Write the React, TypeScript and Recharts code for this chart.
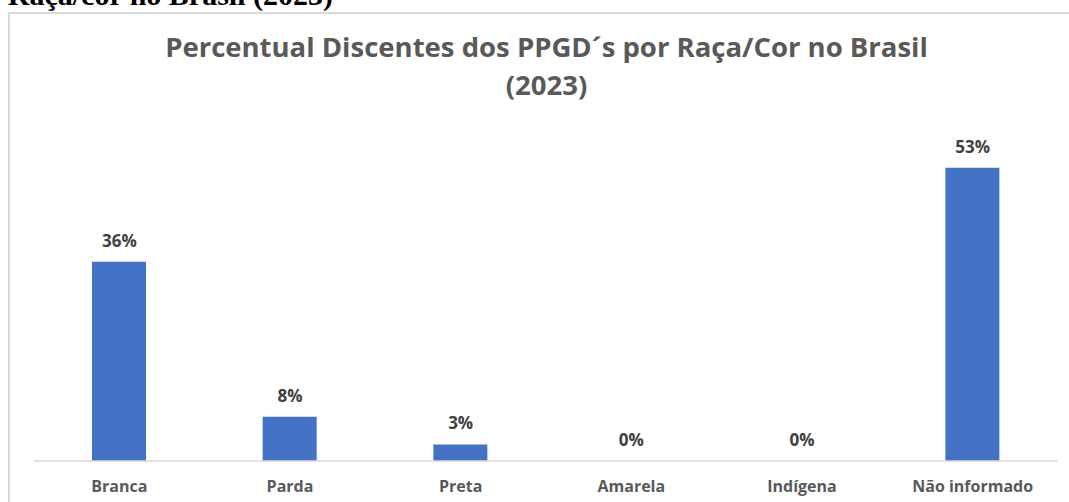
import React from 'react';
import { ComposedChart, Bar, Line, XAxis, YAxis, LabelList } from 'recharts';

const categories = ['Branca', 'Parda', 'Preta', 'Amarela', 'Indígena', 'Não informado'];
const percentValues = [36, 8, 3, 0, 0, 53];

const data = categories.map((name, i) => ({ name, value: percentValues[i] }));

const FONT = '"Open Sans", "Noto Sans", sans-serif';

export default function App() {
  return (
    <div style={{ position: 'fixed', left: 0, top: 0, width: 1069, height: 502, overflow: 'hidden', background: '#fff' }}>
      {/* heading from the page above the chart, mostly cut off */}
      <div
        style={{
          position: 'absolute',
          right: 736,
          top: -20,
          fontFamily: '"Liberation Serif", "Times New Roman", serif',
          fontWeight: 700,
          fontSize: 30,
          lineHeight: 1,
          whiteSpace: 'nowrap',
          color: '#000',
        }}
      >
        Raça/cor no Brasil (2023)
      </div>
      <div
        style={{
          position: 'absolute',
          left: 8,
          top: 12,
          width: 1100,
          height: 520,
          borderTop: '2px solid #d9d9d9',
          borderLeft: '2px solid #d9d9d9',
          boxSizing: 'border-box',
        }}
      />
      <div
        style={{
          position: 'absolute',
          left: 0,
          top: 28,
          width: 1069,
          textAlign: 'center',
          fontFamily: FONT,
          fontWeight: 700,
          fontSize: 27.5,
          lineHeight: '38px',
          color: '#595959',
        }}
      >
        <div style={{ paddingLeft: 24 }}>Percentual Discentes dos PPGD´s por Raça/Cor no Brasil</div>
        <div style={{ paddingLeft: 24 }}>(2023)</div>
      </div>
      <div style={{ position: 'absolute', left: 0, top: 0 }}>
        <ComposedChart
          width={1069}
          height={502}
          data={data}
          margin={{ top: 129, right: 11, left: 34, bottom: 11 }}
        >
          <XAxis
            dataKey="name"
            height={30}
            tickLine={false}
            axisLine={{ stroke: '#d9d9d9', strokeWidth: 1.5 }}
            tickMargin={14}
            interval={0}
            tick={{ fill: '#595959', fontSize: 16, fontWeight: 700, fontFamily: FONT }}
          />
          <YAxis hide domain={[0, 60]} />
          <Bar dataKey="value" fill="#4472c4" barSize={54} isAnimationActive={false} />
          {/* invisible line carries the value labels, so 0% still shows */}
          <Line
            dataKey="value"
            stroke="none"
            dot={false}
            activeDot={false}
            legendType="none"
            isAnimationActive={false}
          >
            <LabelList
              dataKey="value"
              position="top"
              offset={15}
              formatter={(v: number) => `${v}%`}
              style={{ fill: '#404040', fontSize: 17, fontWeight: 700, fontFamily: FONT }}
            />
          </Line>
        </ComposedChart>
      </div>
    </div>
  );
}
